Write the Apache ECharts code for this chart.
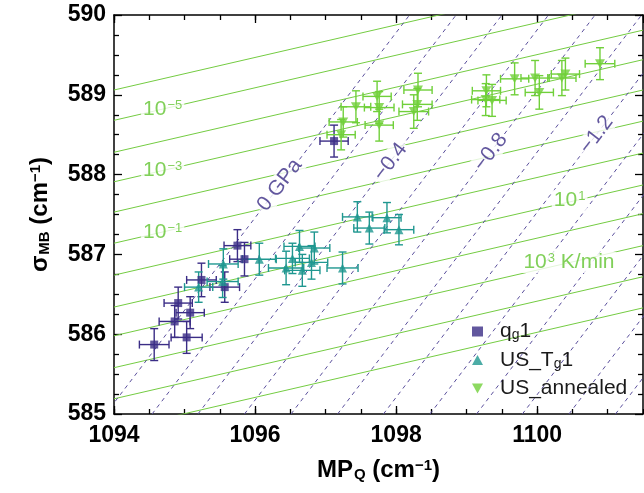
<!DOCTYPE html>
<html>
<head>
<meta charset="utf-8">
<script src="https://cdn.jsdelivr.net/npm/echarts@6/dist/echarts.min.js"></script>
<style>
html, body { margin: 0; padding: 0; background: #fff; }
#chart { width: 644px; height: 493px; }
</style>
</head>
<body>
<div id="chart"></div>
<script>
const FONT = '"Liberation Sans", Arial, Helvetica, sans-serif';

// Axis ranges
const X_MIN = 1094, X_MAX = 1101.5;
const Y_MIN = 585, Y_MAX = 590;

// Cooling-rate contours: y at x = X_MIN and at x = X_MAX (one line per decade, 1e-6 ... 1e5 K/min)
const rateLeftY  = [589.06, 588.68, 588.28, 587.91, 587.53, 587.14, 586.74, 586.34, 585.98, 585.58, 585.19, 584.80];
const rateRightY = [590.59, 590.21, 589.81, 589.44, 589.06, 588.67, 588.27, 587.87, 587.51, 587.11, 586.72, 586.33];

// Isobars: x where each crosses y = Y_MIN and y = Y_MAX (0 ... -2.2 GPa in -0.2 steps)
const isobarBottomX = [1093.88, 1094.54, 1095.19, 1095.85, 1096.51, 1097.17, 1097.82, 1098.48, 1099.14, 1099.79, 1100.45, 1101.11];
const isobarTopX    = [1098.19, 1098.85, 1099.50, 1100.16, 1100.82, 1101.48, 1102.13, 1102.79, 1103.45, 1104.10, 1104.76, 1105.42];

// Contour labels
const rateLabelX   = [1094.69, 1094.69, 1094.69, 1100.46, 1100.45];
const rateLabelY   = [588.82, 588.05, 587.28, 587.68, 586.90];
const rateLabelExp = ['\u22125', '\u22123', '\u22121', '1', '3'];
const rateLabelUnit = ['', '', '', '', ' K/min'];

const pressLabelX = [1096.35, 1097.92, 1099.34, 1100.84];
const pressLabelY = [587.87, 588.16, 588.28, 588.50];
const pressLabelText = ['0 GPa', '\u22120.4', '\u22120.8', '\u22121.2'];

// q_g1
const qgX    = [1094.57, 1094.86, 1094.91, 1095.03, 1095.08, 1095.24, 1095.57, 1095.75, 1095.85, 1097.12];
const qgY    = [585.87, 586.16, 586.39, 585.96, 586.27, 586.68, 586.59, 587.11, 586.94, 588.42];
const qgXerr = [0.21, 0.22, 0.20, 0.22, 0.20, 0.21, 0.21, 0.19, 0.21, 0.20];
const qgYerr = [0.20, 0.20, 0.20, 0.20, 0.20, 0.21, 0.19, 0.20, 0.21, 0.20];

// US_Tg1
const tgX    = [1095.20, 1095.54, 1095.55, 1096.06, 1096.44, 1096.53, 1096.63, 1096.67, 1096.80, 1096.84, 1097.24, 1097.45, 1097.62, 1097.87, 1098.04];
const tgY    = [586.59, 586.66, 586.88, 586.94, 586.83, 586.95, 587.10, 586.80, 586.90, 587.08, 586.83, 587.47, 587.33, 587.46, 587.31];
const tgXerr = [0.20, 0.22, 0.21, 0.24, 0.25, 0.24, 0.22, 0.25, 0.23, 0.22, 0.22, 0.21, 0.22, 0.20, 0.21];
const tgYerr = [0.19, 0.20, 0.19, 0.20, 0.21, 0.19, 0.20, 0.20, 0.21, 0.20, 0.20, 0.19, 0.20, 0.19, 0.19];

// US_annealed
const anX    = [1097.22, 1097.25, 1097.43, 1097.73, 1097.76, 1097.76, 1098.31, 1098.30, 1098.25, 1099.28, 1099.27, 1099.36, 1099.68, 1099.97, 1100.03, 1100.35, 1100.40, 1100.89];
const anY    = [588.50, 588.66, 588.85, 588.98, 588.84, 588.62, 589.06, 588.88, 588.79, 589.05, 588.94, 588.93, 589.20, 589.21, 589.03, 589.21, 589.26, 589.39];
const anXerr = [0.20, 0.20, 0.21, 0.20, 0.21, 0.20, 0.20, 0.21, 0.21, 0.20, 0.20, 0.20, 0.20, 0.20, 0.20, 0.20, 0.20, 0.21];
const anYerr = [0.19, 0.19, 0.20, 0.19, 0.20, 0.20, 0.21, 0.20, 0.21, 0.20, 0.20, 0.20, 0.20, 0.22, 0.21, 0.22, 0.20, 0.20];

const C_QG = '#3b2d86';
const C_TG = '#1f9790';
const C_AN = '#70d03a';
const C_RATE = '#74cc42';
const C_RATE_TEXT = '#62c430';
const C_ISO = '#5a4f9c';

const DOWN_TRI = 'path://M0,0L10,0L5,9Z';

function errorBars(name, xs, ys, xe, ye, color) {
  return {
    type: 'custom',
    name: name,
    silent: true,
    z: 5,
    animation: false,
    data: xs.map((x, i) => [x, ys[i], xe[i], ye[i]]),
    renderItem: function (params, api) {
      const x = api.value(0), y = api.value(1), dx = api.value(2), dy = api.value(3);
      const c = api.coord([x, y]);
      const l = api.coord([x - dx, y])[0], r = api.coord([x + dx, y])[0];
      const t = api.coord([x, y + dy])[1], b = api.coord([x, y - dy])[1];
      const cap = 4;
      const style = { stroke: color, lineWidth: 1.4, fill: null };
      const seg = (x1, y1, x2, y2) => ({ type: 'line', shape: { x1, y1, x2, y2 }, style });
      return {
        type: 'group',
        children: [
          seg(l, c[1], r, c[1]),
          seg(l, c[1] - cap, l, c[1] + cap),
          seg(r, c[1] - cap, r, c[1] + cap),
          seg(c[0], t, c[0], b),
          seg(c[0] - cap, t, c[0] + cap, t),
          seg(c[0] - cap, b, c[0] + cap, b)
        ]
      };
    }
  };
}

const series = [];

// cooling-rate contours
rateLeftY.forEach((yl, i) => {
  series.push({
    type: 'line', silent: true, animation: false, symbol: 'none', z: 1,
    lineStyle: { color: C_RATE, width: 1 },
    data: [[X_MIN, yl], [X_MAX, rateRightY[i]]]
  });
});

// isobars
isobarBottomX.forEach((xb, i) => {
  series.push({
    type: 'line', silent: true, animation: false, symbol: 'none', z: 1,
    lineStyle: { color: C_ISO, width: 1, type: [4, 4] },
    data: [[xb, Y_MIN], [isobarTopX[i], Y_MAX]]
  });
});

// contour labels
series.push({
  type: 'scatter', silent: true, animation: false, z: 3,
  symbolSize: 1, itemStyle: { color: 'rgba(0,0,0,0)' },
  data: rateLabelX.map((x, i) => ({ value: [x, rateLabelY[i]], exp: rateLabelExp[i], unit: rateLabelUnit[i] })),
  label: {
    show: true, position: 'inside',
    backgroundColor: '#fff', padding: [0, 2, 0, 2],
    formatter: p => '{b|10}{s|' + p.data.exp + '}' + (p.data.unit ? '{b|' + p.data.unit + '}' : ''),
    rich: {
      b: { fontFamily: FONT, fontSize: 21, color: C_RATE_TEXT },
      s: { fontFamily: FONT, fontSize: 13, color: C_RATE_TEXT, verticalAlign: 'top', padding: [0, 0, 4, 1] }
    }
  }
});

series.push({
  type: 'scatter', silent: true, animation: false, z: 3,
  symbolSize: 1, itemStyle: { color: 'rgba(0,0,0,0)' },
  data: pressLabelX.map((x, i) => ({ value: [x, pressLabelY[i]], txt: pressLabelText[i] })),
  label: {
    show: true, position: 'inside', rotate: 52.6,
    backgroundColor: '#fff', padding: [0, 2, 0, 2],
    fontFamily: FONT, fontSize: 21, color: C_QG,
    formatter: p => p.data.txt
  }
});

// data: error bars then markers
series.push(errorBars('q_g1 err', qgX, qgY, qgXerr, qgYerr, C_QG));
series.push(errorBars('US_Tg1 err', tgX, tgY, tgXerr, tgYerr, C_TG));
series.push(errorBars('US_annealed err', anX, anY, anXerr, anYerr, C_AN));

series.push({
  type: 'scatter', name: 'q_g1', z: 6, animation: false,
  symbol: 'rect', symbolSize: 8, itemStyle: { color: C_QG },
  data: qgX.map((x, i) => [x, qgY[i]])
});
series.push({
  type: 'scatter', name: 'US_Tg1', z: 6, animation: false,
  symbol: 'triangle', symbolSize: 9, itemStyle: { color: C_TG },
  data: tgX.map((x, i) => [x, tgY[i]])
});
series.push({
  type: 'scatter', name: 'US_annealed', z: 6, animation: false,
  symbol: DOWN_TRI, symbolSize: [10, 9], itemStyle: { color: C_AN },
  data: anX.map((x, i) => [x, anY[i]])
});

const axisLine = { show: true, lineStyle: { color: '#000', width: 1.5 } };
const bigTick = { show: true, inside: true, length: 8, lineStyle: { color: '#000', width: 1.3 } };
const smallTick = { show: true, inside: true, length: 5, lineStyle: { color: '#000', width: 1.3 } };
const tickFont = { fontFamily: FONT, fontSize: 23, fontWeight: 'bold', color: '#000', formatter: v => String(v) };

const legendText = {
  'q_g1': '{sp|}{t|q}{sub|g}{t|1}',
  'US_Tg1': '{sp|}{t|US_T}{sub|g}{t|1}',
  'US_annealed': '{sp|}{t|US_annealed}'
};

const option = {
  backgroundColor: '#fff',
  animation: false,
  grid: { left: 114, right: 1, top: 15, bottom: 79, containLabel: false },
  legend: {
    orient: 'vertical', left: 467, top: 316, itemGap: 7,
    itemWidth: 11, itemHeight: 10, selectedMode: false,
    data: [
      { name: 'q_g1', icon: 'rect' },
      { name: 'US_Tg1', icon: 'triangle' },
      { name: 'US_annealed', icon: DOWN_TRI }
    ],
    formatter: n => legendText[n],
    textStyle: {
      rich: {
        sp: { width: 12 },
        t: { fontFamily: FONT, fontSize: 21, color: '#1a1a1a' },
        sub: { fontFamily: FONT, fontSize: 14, color: '#1a1a1a', verticalAlign: 'bottom', padding: [8, 0, 0, 0] }
      }
    }
  },
  xAxis: [
    {
      type: 'value', position: 'bottom', min: X_MIN, max: X_MAX, interval: 2,
      axisLine: axisLine, axisTick: bigTick, splitLine: { show: false },
      axisLabel: Object.assign({ margin: 10, showMaxLabel: false }, tickFont),
      name: '{t|MP}{sub|Q}{t| (cm}{sup|\u22121}{t|)}',
      nameLocation: 'middle', nameGap: 44,
      nameTextStyle: {
        rich: {
          t: { fontFamily: FONT, fontSize: 24, fontWeight: 'bold', color: '#000' },
          sub: { fontFamily: FONT, fontSize: 15, fontWeight: 'bold', color: '#000', verticalAlign: 'bottom', padding: [9, 0, 0, 1] },
          sup: { fontFamily: FONT, fontSize: 15, fontWeight: 'bold', color: '#000', verticalAlign: 'top', padding: [0, 0, 6, 0] }
        }
      }
    },
    {
      type: 'value', position: 'bottom', min: X_MIN, max: X_MAX, interval: 0.5,
      axisLine: { show: false }, axisTick: smallTick, axisLabel: { show: false }, splitLine: { show: false }
    },
    {
      type: 'value', position: 'top', min: X_MIN, max: X_MAX, interval: 2,
      axisLine: axisLine, axisTick: bigTick, axisLabel: { show: false }, splitLine: { show: false }
    },
    {
      type: 'value', position: 'top', min: X_MIN, max: X_MAX, interval: 0.5,
      axisLine: { show: false }, axisTick: smallTick, axisLabel: { show: false }, splitLine: { show: false }
    }
  ],
  yAxis: [
    {
      type: 'value', position: 'left', min: Y_MIN, max: Y_MAX, interval: 1,
      axisLine: axisLine, axisTick: bigTick,
      minorTick: { show: true, splitNumber: 4, length: 5, lineStyle: { color: '#000', width: 1.3 } },
      splitLine: { show: false }, minorSplitLine: { show: false },
      axisLabel: Object.assign({ margin: 8 }, tickFont),
      name: '{t|\u03c3}{sub|MB}{t| (cm}{sup|\u22121}{t|)}',
      nameLocation: 'middle', nameGap: 62, nameRotate: 90,
      nameTextStyle: {
        rich: {
          t: { fontFamily: FONT, fontSize: 24, fontWeight: 'bold', color: '#000' },
          sub: { fontFamily: FONT, fontSize: 15, fontWeight: 'bold', color: '#000', verticalAlign: 'bottom', padding: [9, 0, 0, 1] },
          sup: { fontFamily: FONT, fontSize: 15, fontWeight: 'bold', color: '#000', verticalAlign: 'top', padding: [0, 0, 6, 0] }
        }
      }
    },
    {
      type: 'value', position: 'right', min: Y_MIN, max: Y_MAX, interval: 1,
      axisLine: axisLine, axisTick: bigTick,
      minorTick: { show: true, splitNumber: 4, length: 5, lineStyle: { color: '#000', width: 1.3 } },
      splitLine: { show: false }, axisLabel: { show: false }
    }
  ],
  series: series
};

const chart = echarts.init(document.getElementById('chart'), null, { renderer: 'canvas' });
chart.setOption(option);
</script>
</body>
</html>
